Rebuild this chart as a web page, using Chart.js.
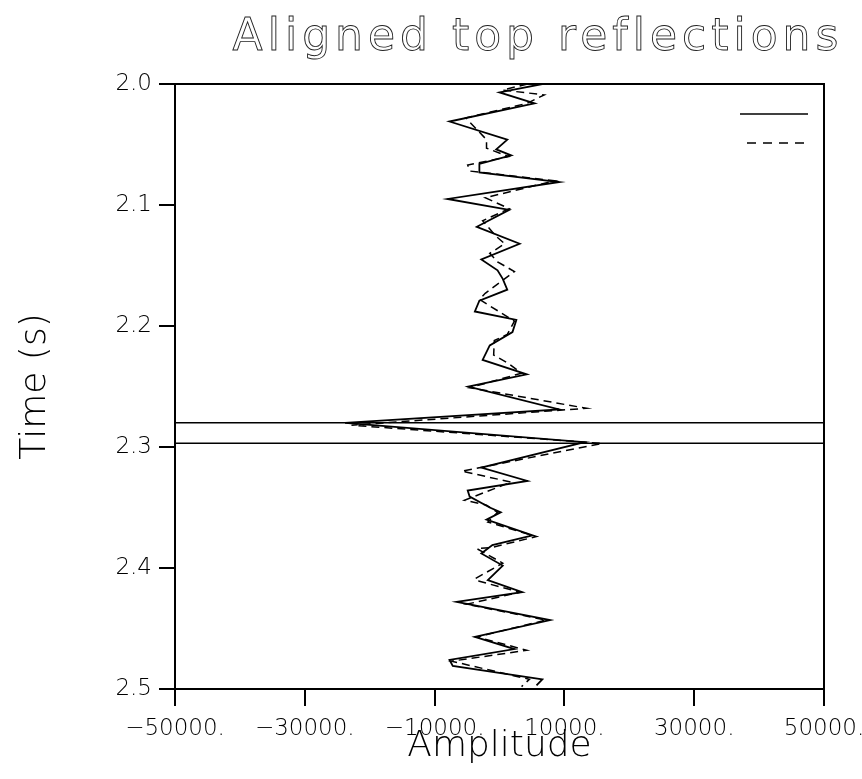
<!DOCTYPE html>
<html>
	<head>
		<meta charset="UTF-8" />
		<title>Aligned top reflections</title>
		<style type="text/css">
			html, body { margin: 0; padding: 0; background: #fff; }
		</style>
	</head>
	<body>
		<canvas id="myChart" width="862" height="779"></canvas>
		<script src="https://cdn.jsdelivr.net/npm/chart.js"></script>
		<script>
			//data - solid trace (time in s, amplitude)
			const solidTime = [2.000, 2.007, 2.016, 2.031, 2.046, 2.054, 2.059, 2.066, 2.073, 2.081, 2.095, 2.104, 2.118, 2.132, 2.145, 2.154, 2.161, 2.170, 2.179, 2.188, 2.195, 2.205, 2.216, 2.228, 2.240, 2.250, 2.269, 2.280, 2.296, 2.317, 2.328, 2.336, 2.341, 2.350, 2.354, 2.360, 2.373, 2.381, 2.388, 2.398, 2.410, 2.420, 2.428, 2.443, 2.457, 2.467, 2.476, 2.481, 2.492, 2.497];
			const solidAmp = [6600, 0, 5400, -7700, 1200, -500, 1800, -3100, -3100, 9200, -8000, 1500, -3500, 3100, -2800, -300, 500, 1200, -3100, -3800, 2600, 2000, -1500, -2600, 4200, -4800, 9200, -23800, 13100, -2800, 4300, -4900, -4600, -1500, 200, -2000, 5100, -1100, -2800, 500, -1800, 3500, -6600, 7800, -3800, 2300, -7700, -7200, 6600, 5700];

			//data - dashed trace
			const dashTime = [2.000, 2.005, 2.009, 2.016, 2.028, 2.046, 2.053, 2.060, 2.067, 2.072, 2.080, 2.094, 2.103, 2.113, 2.126, 2.132, 2.140, 2.147, 2.155, 2.173, 2.178, 2.196, 2.207, 2.212, 2.224, 2.231, 2.239, 2.251, 2.268, 2.282, 2.297, 2.320, 2.329, 2.344, 2.348, 2.354, 2.362, 2.374, 2.383, 2.384, 2.396, 2.409, 2.411, 2.420, 2.430, 2.443, 2.457, 2.468, 2.477, 2.492, 2.498];
			const dashAmp = [4300, 500, 6900, 4200, -5200, -2000, -2000, 1400, -4900, -4500, 8500, -2200, 1500, -2600, -500, 800, -1500, -300, 2300, -2200, -3100, 2300, 1200, -800, -900, 1400, 3400, -4600, 13400, -22800, 15800, -5800, 1800, -5400, -2000, -300, -1800, 5700, -1200, -3500, 500, -3800, -3100, 3200, -5100, 7200, -3500, 4200, -7400, 4600, 3400];

			//horizontal marker lines (s)
			const markerTimes = [2.280, 2.297];

			//tick labels
			const ampTicks = [-50000, -30000, -10000, 10000, 30000, 50000];
			const timeTicks = [2.0, 2.1, 2.2, 2.3, 2.4, 2.5];
			const ampRange = [-50000, 50000];

			const toPoints = (ts, as) => ts.map((t, i) => ({ x: as[i], y: t }));

			const datasets = [
				{ data: toPoints(solidTime, solidAmp), borderColor: '#000', borderWidth: 1.8 },
				{ data: toPoints(dashTime, dashAmp), borderColor: '#000', borderWidth: 1.5, borderDash: [8, 5] }
			];
			markerTimes.forEach(t => {
				datasets.push({ data: ampRange.map(a => ({ x: a, y: t })), borderColor: '#000', borderWidth: 1.5 });
			});

			//frame, legend samples, outward tick marks, outlined title
			const overlayPlugin = {
				id: 'overlay',
				afterDraw(chart) {
					const { ctx, chartArea: a, scales } = chart;
					ctx.save();
					ctx.strokeStyle = '#000';
					ctx.lineWidth = 2;
					ctx.strokeRect(a.left, a.top, a.right - a.left, a.bottom - a.top);
					ctx.fillStyle = '#000';
					ampTicks.forEach(v => {
						const px = scales.x.getPixelForValue(v);
						ctx.fillRect(Math.round(px) - 1, a.bottom, 2, 17);
					});
					timeTicks.forEach(v => {
						const py = scales.y.getPixelForValue(v);
						ctx.fillRect(a.left - 16, Math.round(py) - 1, 16, 2);
					});
					ctx.lineWidth = 1.5;
					ctx.beginPath();
					ctx.moveTo(a.right - 84, a.top + 30);
					ctx.lineTo(a.right - 16, a.top + 30);
					ctx.stroke();
					ctx.setLineDash([9, 7]);
					ctx.beginPath();
					ctx.moveTo(a.right - 77, a.top + 59);
					ctx.lineTo(a.right - 16, a.top + 59);
					ctx.stroke();
					ctx.restore();

					ctx.save();
					ctx.font = '44px "DejaVu Sans"';
					if ('letterSpacing' in ctx) ctx.letterSpacing = '5px';
					ctx.textAlign = 'center';
					ctx.textBaseline = 'alphabetic';
					ctx.strokeStyle = '#222';
					ctx.lineWidth = 0.9;
					ctx.strokeText('Aligned top reflections', 538, 50);
					ctx.restore();
				}
			};

			const tickFont = { family: 'DejaVu Sans', size: 23, weight: 200 };
			const titleFont = { family: 'DejaVu Sans', size: 36, weight: 200 };

			const config = {
				type: 'line',
				data: { datasets },
				options: {
					responsive: false,
					animation: false,
					indexAxis: 'y',
					layout: { padding: { top: 84, right: 38, left: 0, bottom: 0 } },
					elements: { point: { radius: 0 }, line: { tension: 0 } },
					plugins: { legend: { display: false }, tooltip: { enabled: false } },
					scales: {
						x: {
							type: 'linear',
							min: ampRange[0],
							max: ampRange[1],
							afterBuildTicks: s => { s.ticks = ampTicks.map(v => ({ value: v })); },
							afterFit: s => { s.height = 90; s.paddingLeft = 0; s.paddingRight = 0; },
							ticks: {
								color: '#000',
								font: tickFont,
								padding: 10,
								maxRotation: 0,
								autoSkip: false,
								callback: v => (v < 0 ? '\u2212' + Math.abs(v) : v) + '.'
							},
							grid: { drawOnChartArea: false, tickLength: 16, color: '#000' },
							border: { color: '#000', width: 2 },
							title: { display: true, text: 'Amplitude', color: '#000', font: titleFont, padding: { top: 0, bottom: 11 } }
						},
						y: {
							type: 'linear',
							reverse: true,
							min: timeTicks[0],
							max: timeTicks[timeTicks.length - 1],
							afterBuildTicks: s => { s.ticks = timeTicks.map(v => ({ value: v })); },
							afterFit: s => { s.width = 175; s.paddingTop = 0; s.paddingBottom = 0; },
							ticks: {
								color: '#000',
								font: tickFont,
								padding: 8,
								autoSkip: false,
								callback: v => Number(v).toFixed(1)
							},
							grid: { drawOnChartArea: false, tickLength: 15, color: '#000' },
							border: { color: '#000', width: 2 },
							title: { display: true, text: 'Time (s)', color: '#000', font: titleFont, padding: { top: 14, bottom: 0 } }
						}
					}
				},
				plugins: [overlayPlugin]
			};

			const myChart = new Chart(document.getElementById('myChart'), config);
		</script>
	</body>
</html>
